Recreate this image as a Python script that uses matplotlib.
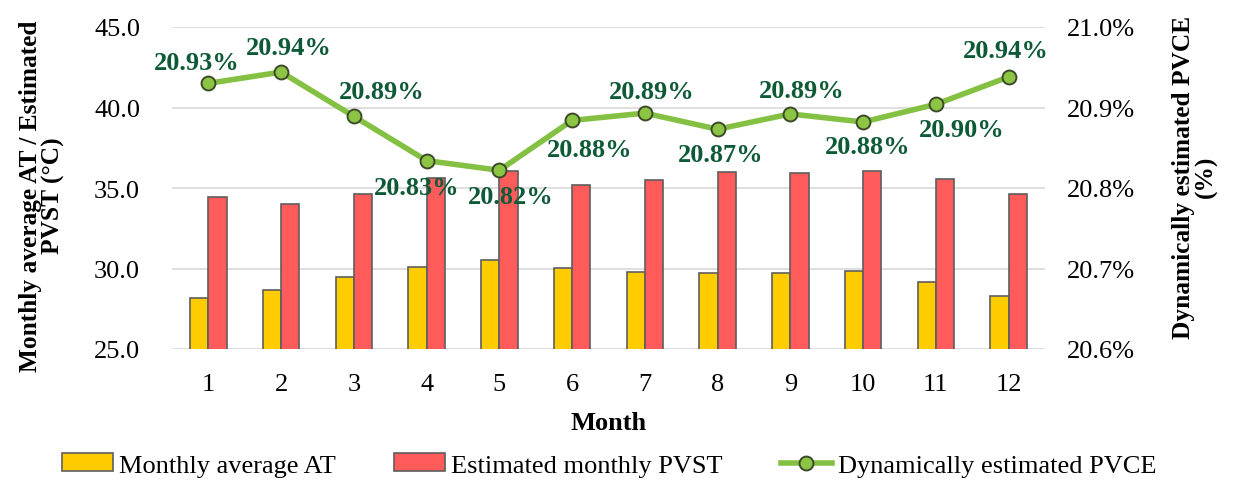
import matplotlib
matplotlib.use("Agg")
import matplotlib.pyplot as plt
import numpy as np
from matplotlib.lines import Line2D
from matplotlib.patches import Patch

plt.rcParams['font.family'] = ['Liberation Serif', 'DejaVu Serif']

months = [str(m) for m in range(1, 13)]
avg_at = [28.15, 28.66, 29.50, 30.10, 30.50, 30.04, 29.76, 29.73, 29.73, 29.86, 29.14, 28.31]
pvst = [34.45, 34.00, 34.63, 35.60, 36.06, 35.17, 35.50, 36.00, 35.92, 36.06, 35.55, 34.63]
pvce = [20.930, 20.944, 20.889, 20.834, 20.822, 20.884, 20.893, 20.873, 20.892, 20.882, 20.904, 20.938]

# label offsets (pixels) relative to each marker
label_offsets = [(-12, 21), (8, 25), (28, 25), (-10, -27), (11, -26), (18, -29), (7, 22),
                 (3, -25), (11, 23), (5, -25), (26, -25), (-3, 26)]

YELLOW = '#FFCC00'
RED = '#FF5B5B'
EDGE = '#5E5E5E'
GREEN = '#84C143'
LABEL_GREEN = '#0E5A36'
FS = 19

fig = plt.figure(figsize=(12.34, 4.85), dpi=100)
L, R, T, B = 172, 1045, 28, 350
ax = fig.add_axes([L / 1234, 1 - B / 485, (R - L) / 1234, (B - T) / 485])
ax2 = ax.twinx()

x = np.arange(1, 13)
w = 0.25
ax.bar(x - w / 2, avg_at, width=w, color=YELLOW, edgecolor=EDGE, linewidth=1.2, zorder=2)
ax.bar(x + w / 2, pvst, width=w, color=RED, edgecolor=EDGE, linewidth=1.2, zorder=2)

ax.set_ylim(25, 45)
ax.set_yticks([25, 30, 35, 40, 45])
ax.set_yticklabels([f'{v:.1f}' for v in [25, 30, 35, 40, 45]])
ax.set_xlim(0.5, 12.5)
ax.set_xticks(x)
ax.set_xticklabels(months)
ax.grid(axis='y', color='#D9D9D9', linewidth=1.2, zorder=0)
ax.set_axisbelow(True)
for s in ax.spines.values():
    s.set_visible(False)
for s in ax2.spines.values():
    s.set_visible(False)
ax.tick_params(axis='y', length=0, labelsize=FS, pad=23)
ax.tick_params(axis='x', length=0, labelsize=FS, pad=17)

ax2.plot(x, pvce, color=GREEN, linewidth=4, marker='o', markersize=10,
         markerfacecolor='#8CC443', markeredgecolor='#3C4A2A', markeredgewidth=1.4, zorder=3)
ax2.set_ylim(20.6, 21.0)
ax2.set_yticks([20.6, 20.7, 20.8, 20.9, 21.0])
ax2.set_yticklabels([f'{v:.1f}%' for v in [20.6, 20.7, 20.8, 20.9, 21.0]])
ax2.tick_params(axis='y', length=0, labelsize=FS, pad=16)

for xi, v, (dx, dy) in zip(x, pvce, label_offsets):
    ax2.annotate(f'{v:.2f}%', (xi, v), xytext=(dx, dy), textcoords='offset pixels',
                 ha='center', va='center', fontsize=FS, fontweight='bold', color=LABEL_GREEN)

ax.set_xlabel('Month', fontsize=FS, fontweight='bold', labelpad=12)
ax.set_ylabel('Monthly average AT / Estimated\nPVST (°C)', fontsize=18.3, fontweight='bold',
              linespacing=0.95)
ax.yaxis.set_label_coords((65 - L) / (R - L), (B - 196) / (B - T))
ax2.set_ylabel('Dynamically estimated PVCE\n(%)', fontsize=18.3, fontweight='bold',
               linespacing=0.95)
ax2.yaxis.set_label_coords((1172 - L) / (R - L), (B - 177) / (B - T))

handles = [Patch(facecolor=YELLOW, edgecolor=EDGE, linewidth=1.2),
           Patch(facecolor=RED, edgecolor=EDGE, linewidth=1.2),
           Line2D([0], [0], color=GREEN, linewidth=4, marker='o', markersize=10,
                  markerfacecolor='#8CC443', markeredgecolor='#3C4A2A', markeredgewidth=1.4)]
fig.legend(handles, ['Monthly average AT', 'Estimated monthly PVST', 'Dynamically estimated PVCE'],
           loc='center', bbox_to_anchor=(609 / 1234, 1 - 466 / 485), ncol=3, frameon=False,
           fontsize=19, handlelength=1.95, handleheight=0.65, handletextpad=0.22,
           columnspacing=2.2, borderpad=0, borderaxespad=0)

fig.savefig('out.png', dpi=100)
